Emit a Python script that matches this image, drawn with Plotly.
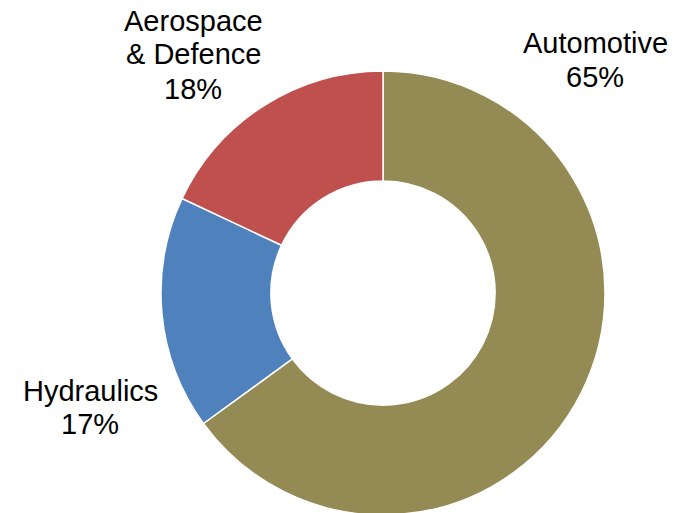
import plotly.graph_objects as go

labels = ["Automotive", "Hydraulics", "Aerospace<br>& Defence"]
values = [65, 17, 18]
colors = ["#948A54", "#4F81BD", "#C0504D"]

W, H = 684, 513
OFF = 8  # page body margin offset in the browser
cx, cy, R = 383 - OFF, 293 - OFF, 222

fig = go.Figure(go.Pie(
    labels=labels,
    values=values,
    hole=0.505,
    sort=False,
    direction="clockwise",
    rotation=0,
    marker=dict(colors=colors, line=dict(color="white", width=1.5)),
    textinfo="none",
    hoverinfo="label+percent",
    domain=dict(x=[(cx - R) / W, (cx + R) / W], y=[(H - cy - R) / H, (H - cy + R) / H]),
    showlegend=False,
))

# label line centres (screen pixels from top) and x centres
label_pos = {
    "Automotive": (595, [43, 77]),
    "Hydraulics": (90, [391, 424]),
    "Aerospace<br>& Defence": (193, [21, 54, 89]),
}
total = sum(values)
for lab, val in zip(labels, values):
    x, ys = label_pos[lab]
    lines = lab.split("<br>") + [f"{round(100 * val / total)}%"]
    for line, y in zip(lines, ys):
        fig.add_annotation(
            x=(x - OFF) / W, y=1 - (y - OFF) / H, xref="paper", yref="paper",
            text=line, showarrow=False, xanchor="center", yanchor="middle",
            font=dict(family="Liberation Sans, Arial, sans-serif", size=29, color="black"),
        )

fig.update_layout(
    width=W, height=H,
    margin=dict(l=0, r=0, t=0, b=0),
    paper_bgcolor="white", plot_bgcolor="white",
)
fig.write_html("out.html")
